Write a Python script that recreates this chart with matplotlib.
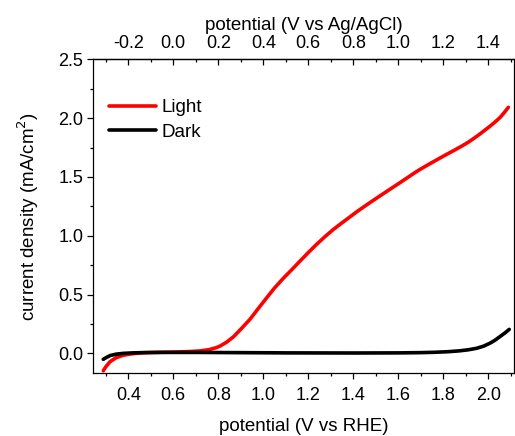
import matplotlib
matplotlib.use("Agg")
import matplotlib.pyplot as plt
import numpy as np
from matplotlib.ticker import MultipleLocator, FormatStrFormatter

plt.rcParams['font.family'] = ['Liberation Sans', 'DejaVu Sans']

# Light (red) curve: potential (V vs RHE), current density (mA/cm2)
light_x = [0.289, 0.300, 0.319, 0.345, 0.378, 0.420, 0.460, 0.520, 0.600, 0.680, 0.720,
           0.760, 0.790, 0.808, 0.837, 0.867, 0.900, 0.941, 0.978, 1.015, 1.050, 1.089,
           1.130, 1.163, 1.200, 1.237, 1.274, 1.311, 1.350, 1.385, 1.420, 1.459, 1.500,
           1.533, 1.570, 1.608, 1.640, 1.667, 1.700, 1.740, 1.780, 1.815, 1.850, 1.880,
           1.910, 1.933, 1.960, 1.985, 2.008, 2.030, 2.052, 2.070, 2.089]
light_y = [-0.148, -0.115, -0.071, -0.038, -0.016, -0.003, 0.004, 0.008, 0.011, 0.016, 0.021,
           0.032, 0.048, 0.062, 0.095, 0.140, 0.205, 0.290, 0.382, 0.472, 0.556, 0.638,
           0.718, 0.784, 0.857, 0.927, 0.992, 1.053, 1.110, 1.160, 1.210, 1.262, 1.315,
           1.357, 1.404, 1.452, 1.493, 1.528, 1.568, 1.612, 1.655, 1.692, 1.728, 1.760,
           1.794, 1.824, 1.861, 1.898, 1.932, 1.967, 2.005, 2.045, 2.092]

# Dark (black) curve
dark_x = [0.289, 0.300, 0.319, 0.345, 0.378, 0.420, 0.480, 0.560, 0.700, 0.900, 1.100,
          1.400, 1.600, 1.696, 1.760, 1.820, 1.870, 1.910, 1.948, 1.980, 2.008, 2.030,
          2.052, 2.075, 2.093]
dark_y = [-0.051, -0.038, -0.019, -0.007, 0.000, 0.004, 0.007, 0.008, 0.008, 0.006, 0.004,
          0.003, 0.004, 0.006, 0.009, 0.014, 0.021, 0.030, 0.043, 0.062, 0.087, 0.112,
          0.143, 0.175, 0.204]

xlim = (0.242, 2.114)
ylim = (-0.167, 2.5)
offset = 0.6  # RHE - Ag/AgCl

fig = plt.figure(figsize=(5.15, 4.36), dpi=100)
ax = fig.add_axes([0.180, 0.1445, 0.818, 0.7195])

ax.plot(light_x, light_y, color='#ff0000', lw=2.6, label='Light', solid_capstyle='round')
ax.plot(dark_x, dark_y, color='black', lw=2.6, label='Dark', solid_capstyle='round')

ax.set_xlim(*xlim)
ax.set_ylim(*ylim)
ax.set_xticks(np.arange(0.4, 2.01, 0.2))
ax.xaxis.set_minor_locator(MultipleLocator(0.1))
ax.yaxis.set_major_locator(MultipleLocator(0.5))
ax.yaxis.set_minor_locator(MultipleLocator(0.25))
ax.xaxis.set_major_formatter(FormatStrFormatter('%.1f'))
ax.yaxis.set_major_formatter(FormatStrFormatter('%.1f'))

for s in ax.spines.values():
    s.set_linewidth(0.9)

ax.tick_params(axis='x', which='both', direction='out', top=False, labelsize=13, pad=6, width=0.9)
ax.tick_params(axis='y', which='both', direction='out', right=False, labelsize=13, pad=2.5, width=0.9)
ax.tick_params(which='major', length=4.3)
ax.tick_params(which='minor', length=2.5)

ax.set_xlabel('potential (V vs RHE)', fontsize=13.5, labelpad=10)
ax.set_ylabel('current density (mA/cm$^2$)', fontsize=13.5, labelpad=12)

sec = ax.secondary_xaxis('top', functions=(lambda x: x - offset, lambda x: x + offset))
sec.set_xticks(np.arange(-0.2, 1.41, 0.2))
sec.xaxis.set_minor_locator(MultipleLocator(0.1))
sec.xaxis.set_major_formatter(FormatStrFormatter('%.1f'))
sec.tick_params(which='both', direction='in', labelsize=13, pad=5, width=0.9)
sec.tick_params(which='major', length=4.3)
sec.tick_params(which='minor', length=2.5)
sec.set_xlabel('potential (V vs Ag/AgCl)', fontsize=13.5, labelpad=4)
sec.spines['top'].set_linewidth(0.9)

ax.legend(loc='upper left', bbox_to_anchor=(0.02, 0.897), frameon=False, fontsize=13.5,
          handlelength=2.5, handletextpad=0.3, labelspacing=0.4, borderaxespad=0)

fig.savefig('out.png', dpi=100)
